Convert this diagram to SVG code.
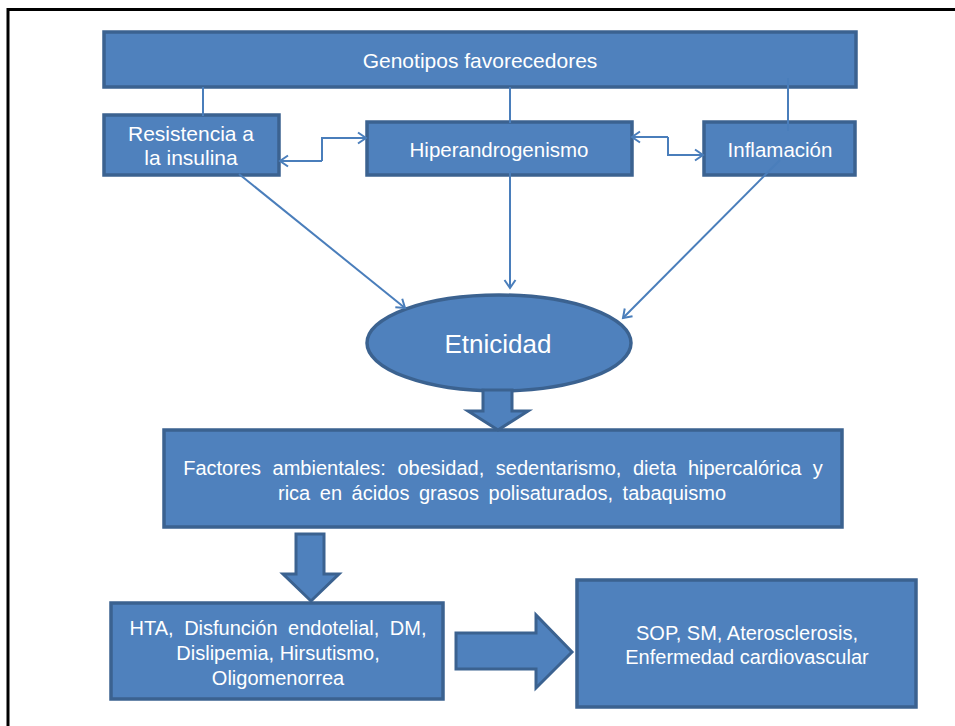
<svg xmlns="http://www.w3.org/2000/svg" width="955" height="726" viewBox="0 0 955 726">
<defs>
<style>
.box{fill:#4f81bd;stroke:#3b6290;stroke-width:3.5}
.t{font-family:"Liberation Sans",Arial,sans-serif;fill:#fff;font-size:20px;text-anchor:middle}
.c{fill:none;stroke:#4a7ebb;stroke-width:2}
.blk{fill:#4f81bd;stroke:#3b6290;stroke-width:3;stroke-linejoin:miter}
</style>
<marker id="ah" markerUnits="userSpaceOnUse" markerWidth="20" markerHeight="20" viewBox="-10 -10 20 20" refX="0" refY="0" orient="auto">
<path d="M-8,-5.5 L0,0 L-8,5.5" fill="none" stroke="#4a7ebb" stroke-width="2"/>
</marker>
</defs>
<rect width="955" height="726" fill="#fff"/>
<path d="M8,726 V9.5 H955" fill="none" stroke="#000" stroke-width="3"/>

<g id="genotipos">
<rect class="box" x="104" y="32" width="752" height="55"/>
<text class="t" x="480" y="68" style="font-size:21px">Genotipos favorecedores</text>
</g>
<g id="resistencia">
<rect class="box" x="104" y="115" width="175" height="60"/>
<text class="t" x="191" y="141" style="font-size:21px">Resistencia a</text>
<text class="t" x="191" y="165" style="font-size:21px">la insulina</text>
</g>
<g id="hiperandrogenismo">
<rect class="box" x="367" y="122" width="265" height="53"/>
<text class="t" x="499" y="157" style="font-size:20.5px">Hiperandrogenismo</text>
</g>
<g id="inflamacion">
<rect class="box" x="704" y="122" width="151" height="53"/>
<text class="t" x="780" y="157" style="font-size:20.5px">Inflamación</text>
</g>
<g id="etnicidad">
<ellipse class="box" cx="499" cy="343" rx="132" ry="48"/>
<text class="t" x="498" y="353" style="font-size:26px">Etnicidad</text>
</g>
<g id="factores">
<rect class="box" x="164" y="430" width="678" height="97"/>
<text class="t" x="503" y="475" word-spacing="6">Factores ambientales: obesidad, sedentarismo, dieta hipercalórica y</text>
<text class="t" x="502" y="500" word-spacing="4">rica en ácidos grasos polisaturados, tabaquismo</text>
</g>
<g id="hta">
<rect class="box" x="111" y="603" width="332" height="96"/>
<text class="t" x="278" y="635" word-spacing="5">HTA, Disfunción endotelial, DM,</text>
<text class="t" x="278" y="660">Dislipemia, Hirsutismo,</text>
<text class="t" x="278" y="685">Oligomenorrea</text>
</g>
<g id="sop">
<rect class="box" x="577" y="580" width="339" height="127"/>
<text class="t" x="747" y="640">SOP, SM, Aterosclerosis,</text>
<text class="t" x="747" y="664">Enfermedad cardiovascular</text>
</g>

<g id="connectors">
<line class="c" x1="203" y1="87" x2="203" y2="116"/>
<line class="c" x1="510" y1="87" x2="510" y2="123"/>
<line class="c" x1="788" y1="78" x2="788" y2="131"/>
<path class="c" d="M322,161 H280" marker-end="url(#ah)"/>
<path class="c" d="M322,161 V138 H366" marker-end="url(#ah)"/>
<path class="c" d="M668,137 H632" marker-end="url(#ah)"/>
<path class="c" d="M668,137 V155 H703" marker-end="url(#ah)"/>
<path class="c" d="M239,174 L405,308" marker-end="url(#ah)"/>
<path class="c" d="M510,171 V288" marker-end="url(#ah)"/>
<path class="c" d="M780,160 L623,318" marker-end="url(#ah)"/>
<path class="blk" d="M483,390 H512 V411 H528 L498,430 L468,411 H483 Z"/>
<path class="blk" d="M296,534 H324 V574 H339 L311,601 L283,574 H296 Z"/>
<path class="blk" d="M456,633 H536 V615 L572,652 L536,688 V669 H456 Z"/>
</g>
</svg>
